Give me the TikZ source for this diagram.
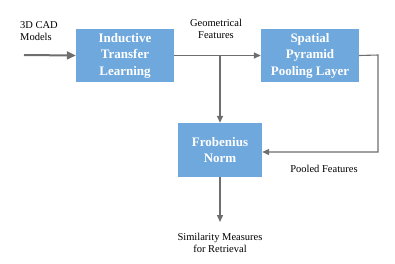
\documentclass[tikz,border=0pt]{standalone}
\usepackage{fontspec}
\setmainfont{Liberation Serif}
\newfontfamily\tms{Liberation Serif}
\usetikzlibrary{arrows.meta}
\definecolor{boxblue}{HTML}{6FA8DC}
\definecolor{linegray}{HTML}{6E6E6E}
\begin{document}
\begin{tikzpicture}[x=1pt,y=-1pt,
  blockbox/.style={fill=boxblue, text=white, font=\tms\fontsize{13}{16.5}\selectfont\bfseries,
    align=center, inner sep=0pt, minimum height=53pt},
  flow/.style={draw=linegray, line width=1.4pt, -{Triangle[length=7pt,width=6pt]}},
  lbl/.style={font=\tms\fontsize{10.5}{12.5}\selectfont, align=center, inner sep=0pt}]
\useasboundingbox (0,0) rectangle (395,263);
% processing blocks
\node[blockbox, minimum width=98pt] (itl) at (125,55.5) {Inductive\\Transfer\\Learning};
\node[blockbox, minimum width=98pt] (spp) at (310,55.5) {Spatial\\Pyramid\\Pooling Layer};
\node[blockbox, minimum width=84pt, minimum height=54pt] (fro) at (220,150) {Frobenius\\Norm};
% free ends and bends
\coordinate (src) at (24,55);
\coordinate (split) at (220,55);
\coordinate (bendA) at (378,55);
\coordinate (bendB) at (378,152);
\coordinate (out) at (220,222);
% labels
\node[lbl, align=left, anchor=north west] (cad) at (20,21) {3D CAD\\Models};
\node[lbl] (geo) at (216,29) {Geometrical\\Features};
\node[lbl] (pool) at (324,169) {Pooled Features};
\node[lbl] (sim) at (220,243) {Similarity Measures\\for Retrieval};
% connectors
\draw[flow, line width=2pt, -{Triangle[length=9pt,width=8pt]}] (src) -- (itl.west);
\draw[flow] (itl.east) -- (spp.west);
\draw[flow] (split) -- (fro.north);
\draw[flow, line width=1.1pt] (spp.east) -- (bendA) -- (bendB) -- (fro.east |- bendB);
\draw[flow] (fro.south) -- (out);
\end{tikzpicture}
\end{document}
